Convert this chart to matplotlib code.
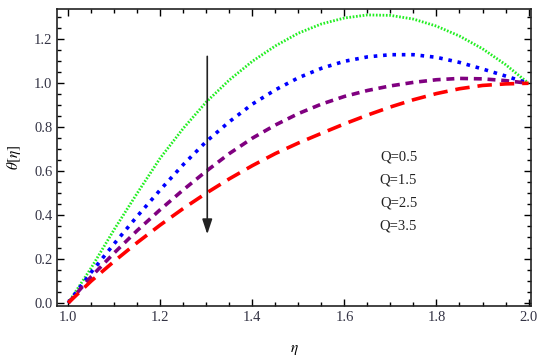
import matplotlib
matplotlib.use("Agg")
import matplotlib.pyplot as plt
from matplotlib.ticker import MultipleLocator

# temperature profiles theta(eta) for several heat-source values Q
eta = [1.00, 1.05, 1.10, 1.15, 1.20, 1.25, 1.30, 1.35, 1.40, 1.45, 1.50,
       1.55, 1.60, 1.65, 1.70, 1.75, 1.80, 1.85, 1.90, 1.95, 2.00]
theta_q05 = [0.00, 0.16, 0.335, 0.50, 0.66, 0.795, 0.915, 1.015, 1.10, 1.17, 1.228,
             1.27, 1.297, 1.311, 1.309, 1.292, 1.26, 1.215, 1.157, 1.085, 1.00]
theta_q15 = [0.00, 0.14, 0.27, 0.395, 0.515, 0.63, 0.735, 0.825, 0.905, 0.97, 1.025,
             1.068, 1.10, 1.12, 1.13, 1.13, 1.118, 1.095, 1.065, 1.033, 1.00]
theta_q25 = [0.00, 0.12, 0.228, 0.33, 0.425, 0.515, 0.60, 0.68, 0.75, 0.81, 0.862,
             0.905, 0.94, 0.967, 0.988, 1.004, 1.016, 1.022, 1.02, 1.012, 1.00]
theta_q35 = [0.00, 0.10, 0.19, 0.275, 0.355, 0.43, 0.50, 0.565, 0.625, 0.68, 0.728,
             0.772, 0.815, 0.855, 0.892, 0.925, 0.953, 0.975, 0.99, 0.997, 1.00]
labels = ["Q=0.5", "Q=1.5", "Q=2.5", "Q=3.5"]

plt.rcParams["font.family"] = ["Liberation Serif", "DejaVu Serif"]
plt.rcParams["mathtext.fontset"] = "stix"

fig = plt.figure(figsize=(5.5, 3.6), dpi=100)
ax = fig.add_axes([0.104, 0.15, 0.862, 0.825])

ax.plot(eta, theta_q05, color="#22ee22", lw=2.0, ls=(0, (0.6, 0.6)))
ax.plot(eta, theta_q15, color="#0000ff", lw=2.6, ls=(0, (1.0, 1.6)))
ax.plot(eta, theta_q25, color="#800080", lw=2.6, ls=(0, (2.2, 1.6)))
ax.plot(eta, theta_q35, color="#ff0000", lw=2.6, ls=(0, (4.0, 2.2)))

# arrow showing increasing Q
ax.annotate("", xy=(1.302, 0.30), xytext=(1.302, 1.135),
            arrowprops=dict(arrowstyle="-|>,head_length=0.9,head_width=0.3",
                            color="#222222", lw=1.2))

for i, lab in enumerate(labels):
    ax.text(0.72, 0.502 - i * 0.078, lab, transform=ax.transAxes,
            ha="center", va="center", fontsize=10.5, color="#222222")

ax.set_xlim(0.976, 2.006)
ax.set_ylim(-0.014, 1.338)
ax.xaxis.set_major_locator(MultipleLocator(0.2))
ax.xaxis.set_minor_locator(MultipleLocator(0.05))
ax.yaxis.set_major_locator(MultipleLocator(0.2))
ax.yaxis.set_minor_locator(MultipleLocator(0.05))
ax.xaxis.set_major_formatter(plt.FuncFormatter(lambda v, p: f"{v:.1f}"))
ax.yaxis.set_major_formatter(plt.FuncFormatter(lambda v, p: f"{v:.1f}"))
ax.tick_params(which="both", direction="in", top=True, right=True,
               labelsize=10.5, labelcolor="#333344", width=1.0)
ax.tick_params(which="major", length=5)
ax.tick_params(which="minor", length=3)
for s in ax.spines.values():
    s.set_linewidth(1.2)
    s.set_color("#222222")

ax.set_xlabel(r"$\eta$", fontsize=11, labelpad=14)
ax.set_ylabel(r"$\theta[\eta]$", fontsize=11, labelpad=8)

fig.savefig("out.png", dpi=100)
